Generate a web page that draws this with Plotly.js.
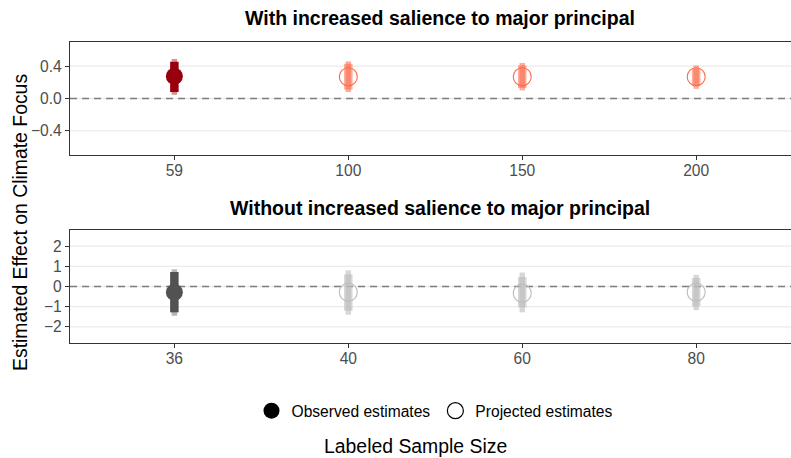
<!DOCTYPE html>
<html>
<head>
<meta charset="utf-8">
<script src="https://cdn.plot.ly/plotly-3.0.1.min.js"></script>
<style>html,body{margin:0;padding:0;background:#fff;}#chart{width:791px;height:458px;}</style>
</head>
<body>
<div id="chart"></div>
<script>
// ---- Data ----
const topTitle = "With increased salience to major principal";
const bottomTitle = "Without increased salience to major principal";
const topCategories = ["59", "100", "150", "200"];
const topEstimate = [0.275, 0.27, 0.27, 0.27];
const topLow95 = [0.046, 0.08, 0.10, 0.12];
const topHigh95 = [0.49, 0.46, 0.44, 0.41];
const topLow90 = [0.08, 0.11, 0.13, 0.16];
const topHigh90 = [0.455, 0.43, 0.41, 0.37];
const topObserved = [true, false, false, false];

const bottomCategories = ["36", "40", "60", "80"];
const bottomEstimate = [-0.28, -0.28, -0.33, -0.28];
const bottomLow95 = [-1.45, -1.40, -1.28, -1.17];
const bottomHigh95 = [0.85, 0.80, 0.69, 0.58];
const bottomLow90 = [-1.28, -1.20, -1.03, -0.98];
const bottomHigh90 = [0.72, 0.60, 0.47, 0.42];
const bottomObserved = [true, false, false, false];

const yTicksTop = [-0.4, 0.0, 0.4];
const yTickTextTop = ["\u22120.4", "0.0", "0.4"];
const yTicksBottom = [-2, -1, 0, 1, 2];
const yTickTextBottom = ["\u22122", "\u22121", "0", "1", "2"];
const referenceLine = 0;

const legendLabels = ["Observed estimates", "Projected estimates"];
const xAxisTitle = "Labeled Sample Size";
const yAxisTitle = "Estimated Effect on Climate Focus";

// ---- Styles ----
const col = {
  topObs: "#99000D", topObsLight: "rgba(153,0,13,0.42)",
  topProj: "#FB6A4A", topProjBar: "rgba(251,106,74,0.55)",
  botObs: "#525252", botObsLight: "rgba(82,82,82,0.42)",
  botProj: "#BDBDBD", botProjBar: "rgba(189,189,189,0.6)"
};

function pick(arr, mask, want) { return arr.filter((_, i) => mask[i] === want); }

function panelTraces(cats, est, lo95, hi95, lo90, hi90, obs, xa, ya, c) {
  const traces = [];
  [true, false].forEach(isObs => {
    const x = pick(cats, obs, isObs);
    const y = pick(est, obs, isObs);
    const l95 = pick(lo95, obs, isObs), h95 = pick(hi95, obs, isObs);
    const l90 = pick(lo90, obs, isObs), h90 = pick(hi90, obs, isObs);
    const outerColor = isObs ? c.obsLight : c.projBar;
    const innerColor = isObs ? c.obs : c.projBar;
    traces.push({
      type: "scatter", mode: "markers", x: x, y: y, xaxis: xa, yaxis: ya,
      marker: {size: 1, opacity: 0}, showlegend: false, hoverinfo: "skip",
      error_y: {type: "data", symmetric: false,
        array: y.map((v, i) => h95[i] - v), arrayminus: y.map((v, i) => v - l95[i]),
        color: outerColor, thickness: 5.5, width: 0}
    });
    traces.push({
      type: "scatter", mode: "markers", x: x, y: y, xaxis: xa, yaxis: ya,
      marker: isObs ? {symbol: "circle", size: 17, color: c.obs}
                    : {symbol: "circle-open", size: 18, color: c.proj, line: {width: 1.1, color: c.proj}},
      showlegend: false,
      error_y: {type: "data", symmetric: false,
        array: y.map((v, i) => h90[i] - v), arrayminus: y.map((v, i) => v - l90[i]),
        color: innerColor, thickness: 8.5, width: 0}
    });
  });
  return traces;
}

const data = [].concat(
  panelTraces(topCategories, topEstimate, topLow95, topHigh95, topLow90, topHigh90, topObserved, "x", "y",
    {obs: col.topObs, obsLight: col.topObsLight, proj: col.topProj, projBar: col.topProjBar}),
  panelTraces(bottomCategories, bottomEstimate, bottomLow95, bottomHigh95, bottomLow90, bottomHigh90, bottomObserved, "x2", "y2",
    {obs: col.botObs, obsLight: col.botObsLight, proj: col.botProj, projBar: col.botProjBar}),
  [
    {type: "scatter", mode: "markers", x: [null], y: [null], xaxis: "x", yaxis: "y", name: legendLabels[0],
     marker: {symbol: "circle", size: 16, color: "#000"}, showlegend: true},
    {type: "scatter", mode: "markers", x: [null], y: [null], xaxis: "x", yaxis: "y", name: legendLabels[1],
     marker: {symbol: "circle-open", size: 16, color: "#000", line: {width: 1.2, color: "#000"}}, showlegend: true}
  ]
);

const W = 791, H = 458, ML = 70;
const py = p => 1 - p / H;
const px = p => (p - ML) / (W - ML);
const FONT = "Liberation Sans, Arial, sans-serif";
const axisFont = {family: FONT, size: 15.6, color: "#4D4D4D"};

const xCommon = {
  type: "category", range: [-0.6, 3.545], showgrid: false, zeroline: false,
  showline: true, mirror: true, linecolor: "#333333", linewidth: 1.2,
  ticks: "outside", ticklen: 4, tickwidth: 1, tickcolor: "#333333",
  tickfont: axisFont, ticklabelstandoff: -3, fixedrange: true
};
const yCommon = {
  showgrid: false, zeroline: false,
  showline: true, mirror: false, linecolor: "#333333", linewidth: 1.2,
  ticks: "outside", ticklen: 4, tickwidth: 1, tickcolor: "#333333",
  tickfont: axisFont, tickmode: "array", fixedrange: true
};

// gridlines (below) then dashed reference line, all beneath the traces
function gridShapes(ticks, xref, yref) {
  return ticks.map(t => ({type: "line", xref: xref + " domain", yref: yref, x0: 0, x1: 1, y0: t, y1: t,
    line: {color: "#EBEBEB", width: 1.3}, layer: "below"}));
}
const shapes = [].concat(
  gridShapes(yTicksTop, "x", "y"),
  gridShapes(yTicksBottom, "x2", "y2"),
  [
    {type: "line", xref: "x domain", yref: "y", x0: 0, x1: 1, y0: referenceLine, y1: referenceLine,
     line: {color: "#7F7F7F", width: 1.5, dash: "7px,5px"}, layer: "below"},
    {type: "line", xref: "x2 domain", yref: "y2", x0: 0, x1: 1, y0: referenceLine, y1: referenceLine,
     line: {color: "#7F7F7F", width: 1.5, dash: "7px,5px"}, layer: "below"}
  ]
);

const layout = {
  width: W, height: H,
  margin: {l: ML, r: 0, t: 0, b: 0, autoexpand: false},
  paper_bgcolor: "#fff", plot_bgcolor: "#fff",
  font: {family: FONT, color: "#000"},
  xaxis: Object.assign({}, xCommon, {anchor: "y", domain: [0, 1]}),
  yaxis: Object.assign({}, yCommon, {anchor: "x", domain: [py(155), py(42)], range: [-0.7, 0.7],
    tickvals: yTicksTop, ticktext: yTickTextTop}),
  xaxis2: Object.assign({}, xCommon, {anchor: "y2", domain: [0, 1]}),
  yaxis2: Object.assign({}, yCommon, {anchor: "x2", domain: [py(343), py(230)], range: [-2.8, 2.8],
    tickvals: yTicksBottom, ticktext: yTickTextBottom}),
  shapes: shapes,
  annotations: [
    {text: "<b>" + topTitle + "</b>", xref: "paper", yref: "paper", x: px(440), y: py(18),
     xanchor: "center", yanchor: "middle", showarrow: false, font: {size: 19.5, color: "#000"}},
    {text: "<b>" + bottomTitle + "</b>", xref: "paper", yref: "paper", x: px(440), y: py(208),
     xanchor: "center", yanchor: "middle", showarrow: false, font: {size: 19.5, color: "#000"}},
    {text: xAxisTitle, xref: "paper", yref: "paper", x: px(415), y: py(446),
     xanchor: "center", yanchor: "middle", showarrow: false, font: {size: 19.4, color: "#000"}},
    {text: yAxisTitle, xref: "paper", yref: "paper", x: px(20), y: py(223), textangle: -90,
     xanchor: "center", yanchor: "middle", showarrow: false, font: {size: 19.4, color: "#000"}}
  ],
  legend: {orientation: "h", x: px(435), xanchor: "center", y: py(411), yanchor: "middle",
    font: {size: 15.6, color: "#000"}, bgcolor: "rgba(0,0,0,0)", itemsizing: "trace"},
  showlegend: true
};

Plotly.newPlot("chart", data, layout, {displayModeBar: false, staticPlot: true});
</script>
</body>
</html>
